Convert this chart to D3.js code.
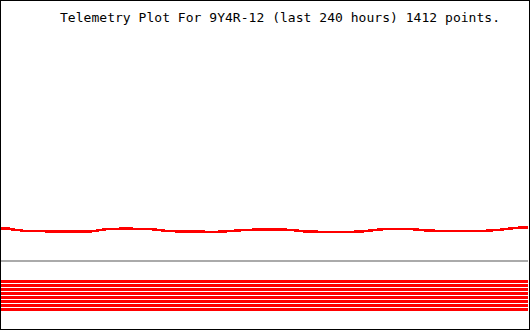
<!DOCTYPE html>
<html>
<head>
<meta charset="utf-8">
<script src="https://cdn.jsdelivr.net/npm/d3@7"></script>
<style>
  body { margin: 0; background: #fff; }
  svg { display: block; }
  .title { font-family: "DejaVu Sans Mono", monospace; font-size: 13px; fill: #000; }
</style>
</head>
<body>
<svg id="plot" width="530" height="330"></svg>
<script>
const title = "Telemetry Plot For 9Y4R-12 (last 240 hours) 1412 points.";

// sampled telemetry reading (hours ago -> value)
const hours = [0, 3.6, 5.0, 7.7, 10.9, 17.8, 22.3, 31.4, 40.5, 43.3, 46.5, 49.7, 58.8, 67.9,
  71.1, 74.7, 81.5, 90.6, 97.5, 103.4, 108.8, 115.7, 122.5, 129.3, 133.9, 138.4, 149.9, 158.9,
  164.4, 169.0, 174.9, 181.7, 187.2, 193.1, 199.9, 213.6, 219.0, 222.7, 227.2, 231.8, 236.4, 240];
const values = [10.07, 10.05, 9.95, 9.90, 9.80, 9.80, 9.75, 9.74, 9.75, 9.82, 9.95, 10.02, 10.03,
  9.99, 9.92, 9.82, 9.75, 9.73, 9.71, 9.78, 9.87, 9.94, 9.97, 9.94, 9.87, 9.75, 9.70, 9.71,
  9.75, 9.87, 10.00, 10.02, 9.98, 9.87, 9.80, 9.79, 9.80, 9.85, 9.92, 10.05, 10.14, 10.17];

const limitLevel = 6.8;            // grey reference level
const statusBands = [1, 2, 3, 4, 5, 6, 7, 8]; // red status rows

const svg = d3.select("#plot");
const W = 530, H = 330;

const x = d3.scaleLinear().domain([0, 240]).range([1, 528]);
const y = d3.scaleLinear().domain([0, 32.9]).range([329, 0]);
const band = d3.scaleBand().domain(statusBands).range([279.5, 311.5])
  .paddingInner(0.25).paddingOuter(0.125);

svg.append("rect").attr("width", W).attr("height", H).attr("fill", "#fff");

svg.append("line")
  .attr("x1", x(0)).attr("x2", x(240))
  .attr("y1", y(limitLevel)).attr("y2", y(limitLevel))
  .attr("stroke", "#aaaaaa").attr("stroke-width", 2);

svg.selectAll("rect.band")
  .data(statusBands)
  .enter()
  .append("rect")
  .attr("class", "band")
  .attr("x", x(0))
  .attr("width", x(240) - x(0))
  .attr("y", d => band(d))
  .attr("height", band.bandwidth())
  .attr("fill", "#ff0000");

const line = d3.line()
  .x((d, i) => x(hours[i]))
  .y(d => y(d));

svg.append("path")
  .datum(values)
  .attr("d", line)
  .attr("fill", "none")
  .attr("stroke", "#ff0000")
  .attr("stroke-width", 2.5)
  .attr("shape-rendering", "crispEdges");

svg.append("text")
  .attr("class", "title")
  .attr("x", 60)
  .attr("y", 22)
  .attr("textLength", 440)
  .text(title);

svg.append("rect")
  .attr("x", 0.5).attr("y", 0.5)
  .attr("width", W - 1).attr("height", H - 1)
  .attr("fill", "none")
  .attr("stroke", "#000");
</script>
</body>
</html>
